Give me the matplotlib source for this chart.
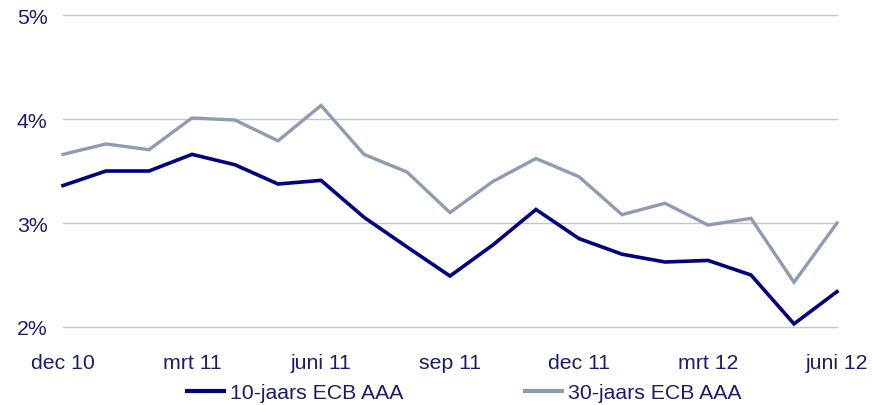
import matplotlib
matplotlib.use("Agg")
import matplotlib.pyplot as plt
from matplotlib.lines import Line2D

months = ["dec 10", "jan 11", "feb 11", "mrt 11", "apr 11", "mei 11", "juni 11",
          "jul 11", "aug 11", "sep 11", "okt 11", "nov 11", "dec 11", "jan 12",
          "feb 12", "mrt 12", "apr 12", "mei 12", "juni 12"]
y10 = [3.36, 3.50, 3.50, 3.66, 3.56, 3.375, 3.41, 3.055, 2.77, 2.49, 2.79, 3.13,
       2.85, 2.70, 2.625, 2.64, 2.50, 2.03, 2.34]
y30 = [3.66, 3.76, 3.705, 4.01, 3.99, 3.79, 4.13, 3.66, 3.49, 3.10, 3.40, 3.62,
       3.445, 3.08, 3.19, 2.98, 3.045, 2.43, 3.00]
labels = ["10-jaars ECB AAA", "30-jaars ECB AAA"]
yticks = [2, 3, 4, 5]

navy = "#000080"
grey = "#8e9bb0"
txt = "#1c1c6b"
fs = 15.3

plt.rcParams['font.family'] = ['Liberation Sans', 'DejaVu Sans']
fig = plt.figure(figsize=(8.72, 4.06), dpi=100)
ax = fig.add_axes([63/872, 1 - 328/406, (837-63)/872, (328-16)/406])

x = list(range(len(months)))
ax.plot(x, y10, color=navy, lw=2.6, solid_joinstyle='miter', zorder=3, clip_on=False)
ax.plot(x, y30, color=grey, lw=2.4, solid_joinstyle='miter', zorder=2, clip_on=False)

ax.set_xlim(0, len(months) - 1)
ax.set_ylim(2, 5)
ax.set_yticks(yticks)
ax.set_yticklabels([f"{t}%" for t in yticks])
ax.set_xticks(x[::3])
ax.set_xticklabels(months[::3])
ax.tick_params(axis='both', length=0, labelsize=fs, labelcolor=txt)
ax.tick_params(axis='y', pad=11)
ax.tick_params(axis='x', pad=19)
ax.grid(axis='y', color='#c4c4c4', lw=1.0)
for gl in ax.get_ygridlines():
    gl.set_clip_on(False)
ax.set_axisbelow(True)
for s in ax.spines.values():
    s.set_visible(False)

h1 = Line2D([], [], color=navy, lw=3)
h2 = Line2D([], [], color=grey, lw=3)
fig.legend([h1, h2], labels, loc='center', bbox_to_anchor=(464.5/872, 1 - 394/406),
           ncol=2, frameon=False, fontsize=fs, handlelength=1.74, handletextpad=0.28,
           columnspacing=5.74, labelcolor=txt, borderaxespad=0, borderpad=0)

fig.savefig("out.png", dpi=100)
